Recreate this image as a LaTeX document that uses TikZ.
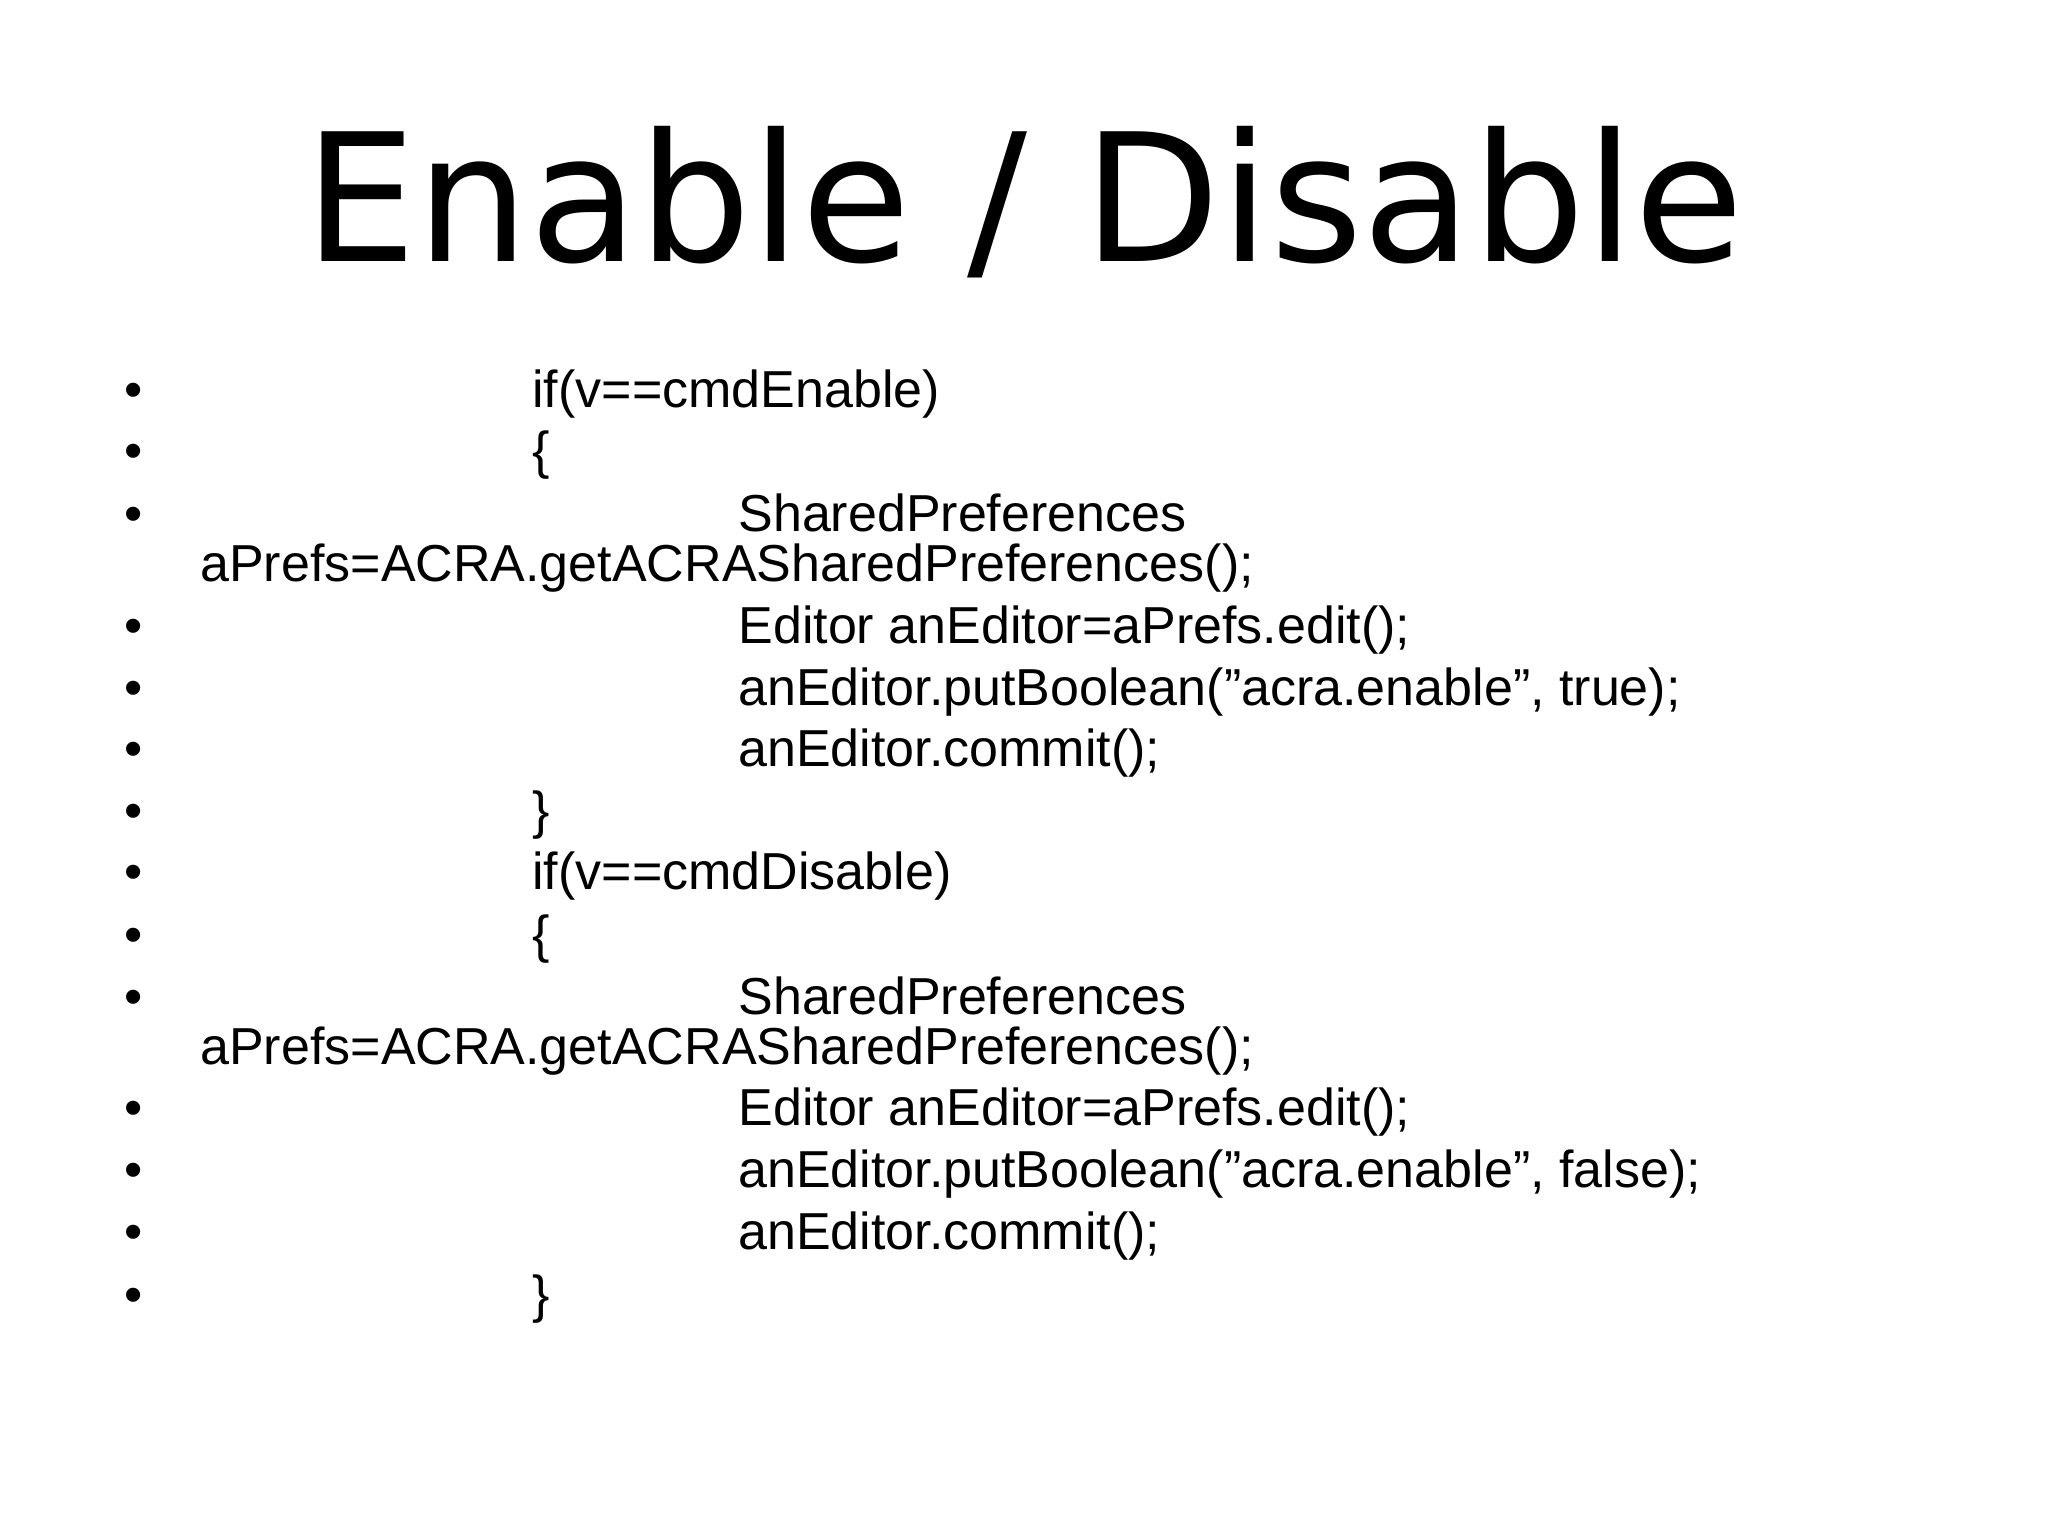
\documentclass[tikz,border=0pt]{standalone}
\usepackage{fontspec}
\setmainfont{Liberation Sans}
\newfontfamily\titlefont{DejaVu Sans}
\begin{document}
\begin{tikzpicture}[x=1pt,y=-1pt,
  body/.style={anchor=base west,inner sep=0pt,font=\fontsize{26}{30}\selectfont},
  ttl/.style={anchor=base,inner sep=0pt,font=\titlefont\fontsize{89}{100}\selectfont}]
\fill[white] (0,0) rectangle (1024,768);
\node[ttl] (title) at (512,130.6) {Enable / Disable};
\foreach \y in {203.7,234.4,265.8,321.9,352.6,383.3,414,444.7,476,507.4,562.9,593.6,624.9,656.3}
  \node[body] at (62,\y) {•};
\node[body] (l1) at (266,203.7) {if(v==cmdEnable)};
\node[body] (l2) at (266,234.4) {\{};
\node[body] (l3) at (369,265.8) {SharedPreferences};
\node[body] (l3b) at (100,290.6) {aPrefs=ACRA.getACRASharedPreferences();};
\node[body] (l4) at (369,321.9) {Editor anEditor=aPrefs.edit();};
\node[body] (l5) at (369,352.6) {anEditor.putBoolean("acra.enable", true);};
\node[body] (l6) at (369,383.3) {anEditor.commit();};
\node[body] (l7) at (266,414) {\}};
\node[body] (l8) at (266,444.7) {if(v==cmdDisable)};
\node[body] (l9) at (266,476) {\{};
\node[body] (l10) at (369,507.4) {SharedPreferences};
\node[body] (l10b) at (100,532.2) {aPrefs=ACRA.getACRASharedPreferences();};
\node[body] (l11) at (369,562.9) {Editor anEditor=aPrefs.edit();};
\node[body] (l12) at (369,593.6) {anEditor.putBoolean("acra.enable", false);};
\node[body] (l13) at (369,624.9) {anEditor.commit();};
\node[body] (l14) at (266,656.3) {\}};
\end{tikzpicture}
\end{document}
